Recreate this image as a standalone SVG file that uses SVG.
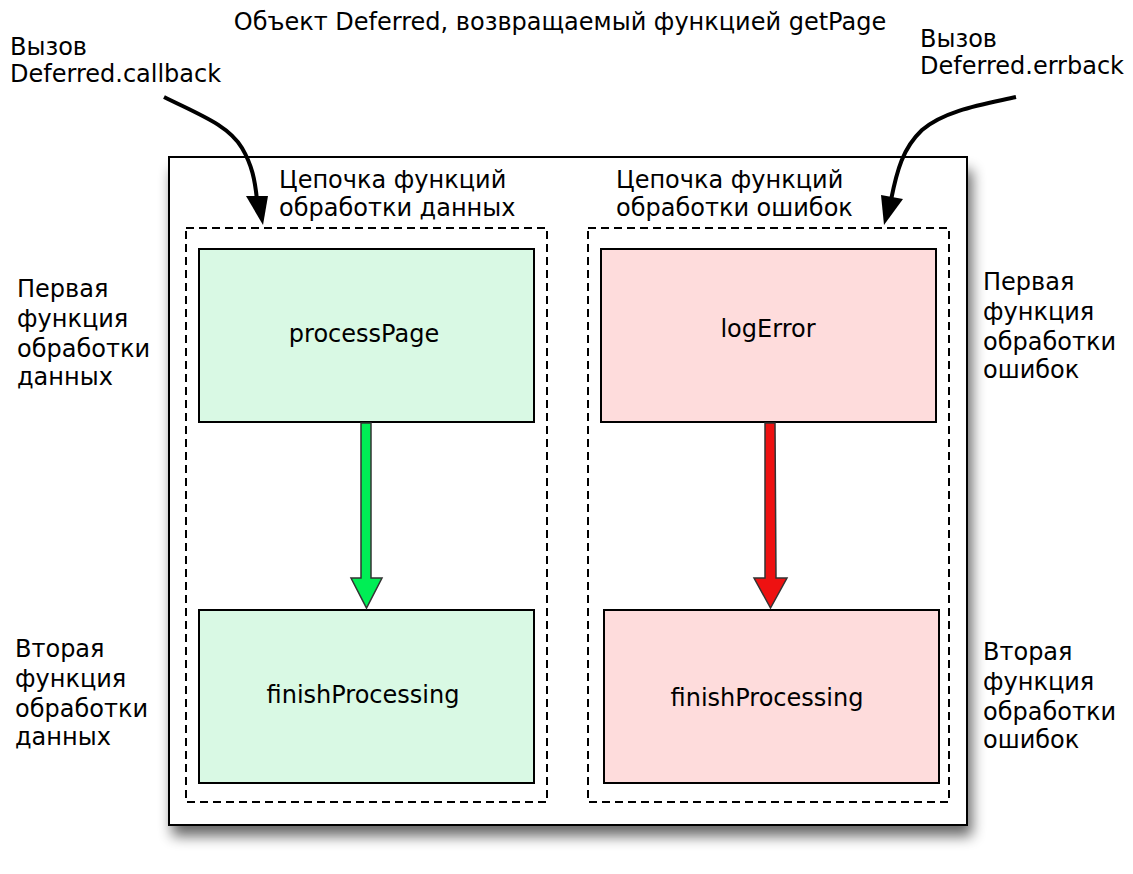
<svg xmlns="http://www.w3.org/2000/svg" width="1133" height="874" viewBox="0 0 1133 874">
<style>
text{font-family:"DejaVu Sans",sans-serif;font-size:24px;fill:#000}
.c{text-anchor:middle}
.dash{fill:none;stroke:#000;stroke-width:2;stroke-dasharray:8,5}
.g{fill:#d9f9e4;stroke:#000;stroke-width:2}
.r{fill:#fedcdc;stroke:#000;stroke-width:2}
.curve{fill:none;stroke:#000;stroke-width:4}
</style>
<defs>
<filter id="sh" x="-10%" y="-10%" width="120%" height="125%">
<feGaussianBlur stdDeviation="7"/>
</filter>
</defs>
<rect width="1133" height="874" fill="#fff"/>
<g id="outer">
<rect x="172" y="170" width="800" height="666" fill="#000" opacity="0.6" filter="url(#sh)"/>
<rect x="169" y="157" width="798" height="668" fill="#fff" stroke="#000" stroke-width="2"/>
</g>
<text class="c" x="560" y="30">Объект Deferred, возвращаемый функцией getPage</text>
<g id="chain-data">
<rect class="dash" x="186" y="228" width="361" height="574"/>
<text x="279" y="188">Цепочка функций</text>
<text x="279" y="216">обработки данных</text>
</g>
<g id="chain-err">
<rect class="dash" x="588" y="228" width="361" height="574"/>
<text x="616" y="188">Цепочка функций</text>
<text x="616" y="216">обработки ошибок</text>
</g>
<g id="processPage">
<rect class="g" x="199" y="249" width="335" height="173"/>
<text class="c" x="364" y="342">processPage</text>
</g>
<g id="finishProcessingL">
<rect class="g" x="199" y="610" width="335" height="173"/>
<text class="c" x="363" y="703">finishProcessing</text>
</g>
<g id="logError">
<rect class="r" x="601" y="249" width="335" height="173"/>
<text class="c" x="768" y="337">logError</text>
</g>
<g id="finishProcessingR">
<rect class="r" x="604" y="610" width="335" height="173"/>
<text class="c" x="767" y="706">finishProcessing</text>
</g>
<g id="labels">
<text x="10" y="55">Вызов</text>
<text x="10" y="82">Deferred.callback</text>
<text x="920" y="47">Вызов</text>
<text x="920" y="74">Deferred.errback</text>
<text x="17" y="297">Первая</text>
<text x="17" y="327">функция</text>
<text x="17" y="357">обработки</text>
<text x="17" y="385">данных</text>
<text x="15" y="657">Вторая</text>
<text x="15" y="687">функция</text>
<text x="15" y="717">обработки</text>
<text x="15" y="745">данных</text>
<text x="983" y="290">Первая</text>
<text x="983" y="320">функция</text>
<text x="983" y="350">обработки</text>
<text x="983" y="378">ошибок</text>
<text x="983" y="660">Вторая</text>
<text x="983" y="690">функция</text>
<text x="983" y="720">обработки</text>
<text x="983" y="748">ошибок</text>
</g>
<g id="connectors">
<path class="curve" d="M164,97 C200,115 228,125 242,148 C252,165 255,180 257,200"/>
<path d="M246,196 L268,196 L263,225 Z" fill="#000"/>
<path class="curve" d="M1016,97 C985,104 945,110 922,130 C903,148 897,170 891,200"/>
<path d="M881,195 L903,199 L884,225 Z" fill="#000"/>
<path d="M361,423 L371,423 L371,578 L382,578 L366.5,608 L351,578 L361,578 Z" fill="#00ee55" stroke="#333" stroke-width="1.5"/>
<path d="M765,423 L775,423 L776,578 L787,578 L770.5,608 L754,578 L765,578 Z" fill="#ee1111" stroke="#333" stroke-width="1.5"/>
</g>
</svg>
